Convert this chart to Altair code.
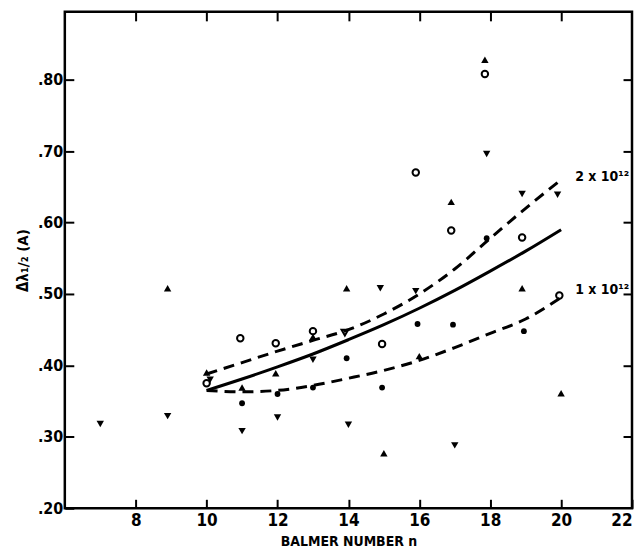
import altair as alt
import pandas as pd

# ---- data ----
tri_down_x = [7.0, 8.9, 10.1, 11.0, 12.0, 13.0, 14.0, 14.9, 15.9, 17.0, 17.9, 18.9, 19.9]
tri_down_y = [0.318, 0.329, 0.380, 0.308, 0.327, 0.408, 0.317, 0.508, 0.504, 0.288, 0.696, 0.640, 0.639]

tri_up_x = [8.9, 10.0, 11.0, 11.95, 13.0, 13.95, 15.0, 16.0, 16.9, 17.85, 18.9, 20.0]
tri_up_y = [0.508, 0.390, 0.369, 0.389, 0.440, 0.508, 0.277, 0.413, 0.629, 0.828, 0.508, 0.361]

open_circ_x = [10.0, 10.95, 11.95, 13.0, 14.95, 15.9, 16.9, 17.85, 18.9, 19.95]
open_circ_y = [0.375, 0.438, 0.431, 0.448, 0.430, 0.670, 0.589, 0.808, 0.579, 0.498]

dot_x = [11.0, 12.0, 13.0, 13.95, 14.95, 15.95, 16.95, 17.9, 18.95]
dot_y = [0.347, 0.360, 0.369, 0.410, 0.369, 0.458, 0.457, 0.578, 0.448]

open_tri_down_x = [13.9]
open_tri_down_y = [0.446]

curve_n = [10, 11, 12, 13, 14, 15, 16, 17, 18, 19, 20]
solid_fit = [0.365, 0.381, 0.398, 0.416, 0.436, 0.457, 0.480, 0.505, 0.532, 0.560, 0.590]
upper_fit = [0.388, 0.404, 0.420, 0.435, 0.450, 0.472, 0.500, 0.535, 0.578, 0.620, 0.660]
lower_fit = [0.365, 0.363, 0.365, 0.372, 0.382, 0.393, 0.407, 0.425, 0.445, 0.465, 0.495]

label_text = ["2 x 10¹²", "1 x 10¹²"]
label_x = [20.4, 20.4]
label_y = [0.664, 0.505]

x_ticks = [8, 10, 12, 14, 16, 18, 20, 22]
y_ticks = [0.20, 0.30, 0.40, 0.50, 0.60, 0.70, 0.80]

XDOM = [6, 22]
YDOM = [0.20, 0.895]
NARROW = "Liberation Sans Narrow, DejaVu Sans Condensed"
COND = "DejaVu Sans Condensed"

xs = alt.Scale(domain=XDOM, nice=False, zero=False)
ys = alt.Scale(domain=YDOM, nice=False, zero=False)

TS = 9
x_axis = alt.Axis(values=x_ticks, orient="bottom", domain=False, grid=False, offset=-TS,
                  tickSize=TS, tickWidth=2, tickColor="black", labelFont=NARROW,
                  labelFontWeight="bold", labelFontSize=17, labelColor="black",
                  labelPadding=4, title="BALMER NUMBER n", titleFont=COND,
                  titleFontWeight="bold", titleFontSize=14, titleColor="black",
                  titlePadding=6)
y_axis = alt.Axis(values=y_ticks, orient="left", domain=False, grid=False, offset=-TS,
                  tickSize=TS, tickWidth=2, tickColor="black", labelFont=NARROW,
                  labelFontWeight="bold", labelFontSize=16, labelColor="black",
                  labelPadding=2, labelExpr="substring(format(datum.value, '.2f'), 1)",
                  title="Δλ₁/₂ (A)", titleFont=COND, titleFontWeight="bold",
                  titleFontSize=15, titleColor="black", titlePadding=7)
x_axis_top = alt.Axis(values=x_ticks[:-1], orient="top", domain=False, grid=False, offset=-TS,
                      tickSize=TS, tickWidth=2, tickColor="black", labels=False, title=None)
y_axis_right = alt.Axis(values=y_ticks[1:], orient="right", domain=False, grid=False, offset=-TS,
                        tickSize=TS, tickWidth=2, tickColor="black", labels=False, title=None)


def pts(xv, yv, shape, filled, size):
    df = pd.DataFrame({"n": xv, "w": yv})
    if filled:
        m = alt.Chart(df).mark_point(shape=shape, filled=True, fill="black", size=size,
                                     opacity=1, strokeWidth=0)
    else:
        m = alt.Chart(df).mark_point(shape=shape, filled=False, stroke="black", size=size,
                                     opacity=1, strokeWidth=2)
    return m.encode(x=alt.X("n:Q", scale=xs, axis=None), y=alt.Y("w:Q", scale=ys, axis=None))


curves = pd.DataFrame({"n": curve_n, "solid": solid_fit, "upper": upper_fit, "lower": lower_fit})

axes_main = alt.Chart(curves).mark_point(opacity=0).encode(
    x=alt.X("n:Q", scale=xs, axis=x_axis), y=alt.Y("solid:Q", scale=ys, axis=y_axis))
axes_other = alt.Chart(curves).mark_point(opacity=0).encode(
    x=alt.X("n:Q", scale=xs, axis=x_axis_top), y=alt.Y("solid:Q", scale=ys, axis=y_axis_right))

solid_line = alt.Chart(curves).mark_line(color="black", strokeWidth=3, interpolate="monotone").encode(
    x=alt.X("n:Q", scale=xs, axis=None), y=alt.Y("solid:Q", scale=ys, axis=None))
upper_line = alt.Chart(curves).mark_line(color="black", strokeWidth=3, strokeDash=[11, 7],
                                         interpolate="monotone").encode(
    x=alt.X("n:Q", scale=xs, axis=None), y=alt.Y("upper:Q", scale=ys, axis=None))
lower_line = alt.Chart(curves).mark_line(color="black", strokeWidth=3, strokeDash=[11, 7],
                                         interpolate="monotone").encode(
    x=alt.X("n:Q", scale=xs, axis=None), y=alt.Y("lower:Q", scale=ys, axis=None))

labels = alt.Chart(pd.DataFrame({"n": label_x, "w": label_y, "t": label_text})).mark_text(
    align="left", baseline="middle", font=NARROW, fontWeight="bold", fontSize=14, color="black"
).encode(x=alt.X("n:Q", scale=xs, axis=None), y=alt.Y("w:Q", scale=ys, axis=None), text="t:N")

chart = alt.layer(
    axes_main, axes_other,
    solid_line, upper_line, lower_line,
    pts(tri_down_x, tri_down_y, "triangle-down", True, 55),
    pts(tri_up_x, tri_up_y, "triangle-up", True, 55),
    pts(dot_x, dot_y, "circle", True, 34),
    pts(open_circ_x, open_circ_y, "circle", False, 42),
    pts(open_tri_down_x, open_tri_down_y, "triangle-down", False, 44),
    labels,
).resolve_axis(x="independent", y="independent").properties(
    width=569, height=498, padding={"left": 7, "top": 2, "right": 1, "bottom": 2},
    background="white"
).configure_view(stroke="black", strokeWidth=2.5)

chart.save("out.html", embed_options={"renderer": "svg", "actions": False})
